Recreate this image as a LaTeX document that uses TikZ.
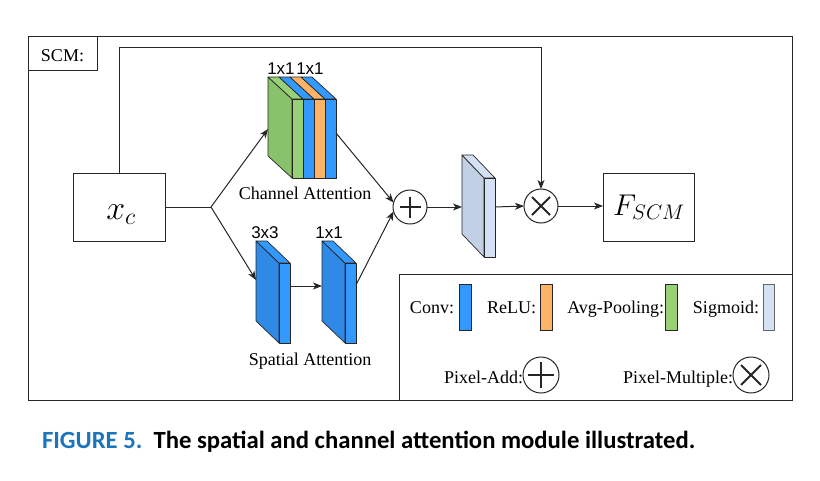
\RequirePackage{fix-cm}
\documentclass[tikz,border=0pt]{standalone}
\usepackage{fontspec}
\setmainfont{Liberation Serif}
\newfontfamily\lsans{Liberation Sans}
\newfontfamily\capfont{Carlito}
\usetikzlibrary{arrows.meta}
\definecolor{convblue}{HTML}{3399FF}
\definecolor{convside}{HTML}{2E8AE6}
\definecolor{reluorange}{HTML}{FFB366}
\definecolor{poolgreen}{HTML}{97D077}
\definecolor{poolside}{HTML}{88C26A}
\definecolor{sigblue}{HTML}{D4E1F5}
\definecolor{sigside}{HTML}{C2D0E6}
\definecolor{capblue}{HTML}{1A75BB}
\definecolor{linec}{HTML}{262626}
\begin{document}
\begin{tikzpicture}[x=1pt,y=-1pt,
  every node/.style={inner sep=0pt, outer sep=0pt},
  conn/.style={draw=linec, line width=1pt},
  arr/.style={conn,-{Stealth[length=9pt,width=7pt,inset=2.5pt]}},
  lbl/.style={font=\fontsize{18}{20}\selectfont},
  dimlbl/.style={font=\lsans\fontsize{17}{19}\selectfont},
  face/.style={draw=linec, line width=0.7pt, line join=round},
  box/.style={draw=linec, line width=1pt},
  opcirc/.style={circle, draw=linec, line width=1pt, minimum size=34pt},
  legcirc/.style={circle, draw=linec, line width=1pt, minimum size=36pt},
  legrect/.style={draw=linec, line width=0.8pt},
  plusline/.style={draw=linec, line width=1.4pt},
  crossline/.style={draw=linec, line width=1.9pt}
]
\useasboundingbox (0,0) rectangle (820,480);

% outer frame
\node[box, minimum width=764pt, minimum height=364pt, anchor=north west] (frame) at (28,36) {};
\node[box, minimum width=69pt, minimum height=34pt, anchor=north west] (scmbox) at (28,36) {};
\node[lbl, anchor=base] (scm) at (62.5,61) {SCM:};

% input / output boxes
\node[box, minimum width=92pt, minimum height=68pt] (xc) at (119,207) {};
\node[font=\fontsize{34}{36}\selectfont, anchor=base] (xct) at (121,219) {$x_c$};
\node[box, minimum width=91pt, minimum height=68pt] (fscm) at (648.5,207) {};
\node[font=\fontsize{30}{32}\selectfont, anchor=base] (fscmt) at (649,215) {$F_{SCM}$};

% channel attention block
\fill[poolside, face] (292,99) -- (268,77) -- (268,156) -- (292,178) -- cycle;
\fill[poolgreen, face] (292,99) -- (303,99) -- (279,77) -- (268,77) -- cycle;
\fill[convblue, face] (303,99) -- (314,99) -- (290,77) -- (279,77) -- cycle;
\fill[reluorange, face] (314,99) -- (325,99) -- (301,77) -- (290,77) -- cycle;
\fill[convblue, face] (325,99) -- (336,99) -- (312,77) -- (301,77) -- cycle;
\fill[poolgreen, face] (292,99) rectangle (303,178);
\fill[convblue, face] (303,99) rectangle (314,178);
\fill[reluorange, face] (314,99) rectangle (325,178);
\fill[convblue, face] (325,99) rectangle (336,178);
\node[dimlbl, anchor=base] (ca1) at (281,74) {1x1};
\node[dimlbl, anchor=base] (ca2) at (310,74) {1x1};
\node[lbl, anchor=base] (calbl) at (305,199) {Channel Attention};

% spatial attention blocks
\fill[convside, face] (279,263) -- (256,241) -- (256,321) -- (279,343) -- cycle;
\fill[convblue, face] (279,263) -- (290,263) -- (267,241) -- (256,241) -- cycle;
\fill[convblue, face] (279,263) rectangle (290,343);
\fill[convside, face] (345,263) -- (322,241) -- (322,321) -- (345,343) -- cycle;
\fill[convblue, face] (345,263) -- (356,263) -- (333,241) -- (322,241) -- cycle;
\fill[convblue, face] (345,263) rectangle (356,343);
\node[dimlbl, anchor=base] (sa1) at (265,238) {3x3};
\node[dimlbl, anchor=base] (sa2) at (329,238) {1x1};
\node[lbl, anchor=base] (salbl) at (310,365) {Spatial Attention};

% sigmoid block
\fill[sigside, face] (484,178) -- (462,155) -- (462,234) -- (484,257) -- cycle;
\fill[sigblue, face] (484,178) -- (495,178) -- (473,155) -- (462,155) -- cycle;
\fill[sigblue, face] (484,178) rectangle (495,257);

% operators
\node[opcirc] (plus) at (410,207) {};
\draw[plusline] (399.5,207) -- (420.5,207) (410,196.5) -- (410,217.5);
\node[opcirc] (mult) at (541,206) {};
\draw[crossline] (532,197) -- (550,215) (532,215) -- (550,197);

% connector coordinates
\coordinate (fork) at (211,207);
\coordinate (caIn) at (268,129);
\coordinate (caOut) at (336,133);
\coordinate (sa1In) at (256,280);
\coordinate (sa1Out) at (290,286);
\coordinate (sa2In) at (322,286);
\coordinate (sa2Out) at (356,285);
\coordinate (sigIn) at (462,207);
\coordinate (sigOut) at (495,207);
\coordinate (skipA) at (119,47);
\coordinate (skipB) at (541,47);
\coordinate (fIn) at (603,206);

% connectors
\draw[conn] (xc.east) -- (fork);
\draw[arr] (fork) -- (caIn);
\draw[arr] (fork) -- (sa1In);
\draw[arr] (sa1Out) -- (sa2In);
\draw[arr] (caOut) -- (plus.165);
\draw[arr] (sa2Out) -- (plus.195);
\draw[arr] (plus.east) -- (sigIn);
\draw[arr] (sigOut) -- (mult.west);
\draw[arr] (xc.north) -- (skipA) -- (skipB) -- (mult.north);
\draw[arr] (mult.east) -- (fIn);

% legend
\node[box, minimum width=393pt, minimum height=126pt, anchor=north west] (legend) at (399,274) {};
\node[lbl, anchor=base east] (lconv) at (454,313) {Conv:};
\fill[convblue, legrect] (459,284) rectangle (471,330);
\node[lbl, anchor=base east] (lrelu) at (536,313) {ReLU:};
\fill[reluorange, legrect] (540,284) rectangle (552,330);
\node[lbl, anchor=base east] (lpool) at (664,313) {Avg-Pooling:};
\fill[poolgreen, legrect] (665,284) rectangle (677,330);
\node[lbl, anchor=base east] (lsig) at (759,313) {Sigmoid:};
\fill[sigblue, draw=black!60, line width=0.8pt] (763,284) rectangle (774,330);
\node[lbl, anchor=base east] (ladd) at (523,383) {Pixel-Add:};
\node[legcirc] (addc) at (541,375) {};
\draw[plusline] (528,375) -- (554,375) (541,362) -- (541,388);
\node[lbl, anchor=base east] (lmul) at (733,383) {Pixel-Multiple:};
\node[legcirc] (mulc) at (751,375) {};
\draw[crossline] (741,365) -- (761,385) (741,385) -- (761,365);

% caption
\node[anchor=base west, font=\capfont\bfseries\fontsize{24.7}{26}\selectfont] (caption) at (42,448)
  {\textcolor{capblue}{FIGURE 5.}\hspace{0.45em}The spatial and channel attention module illustrated.};
\end{tikzpicture}
\end{document}
